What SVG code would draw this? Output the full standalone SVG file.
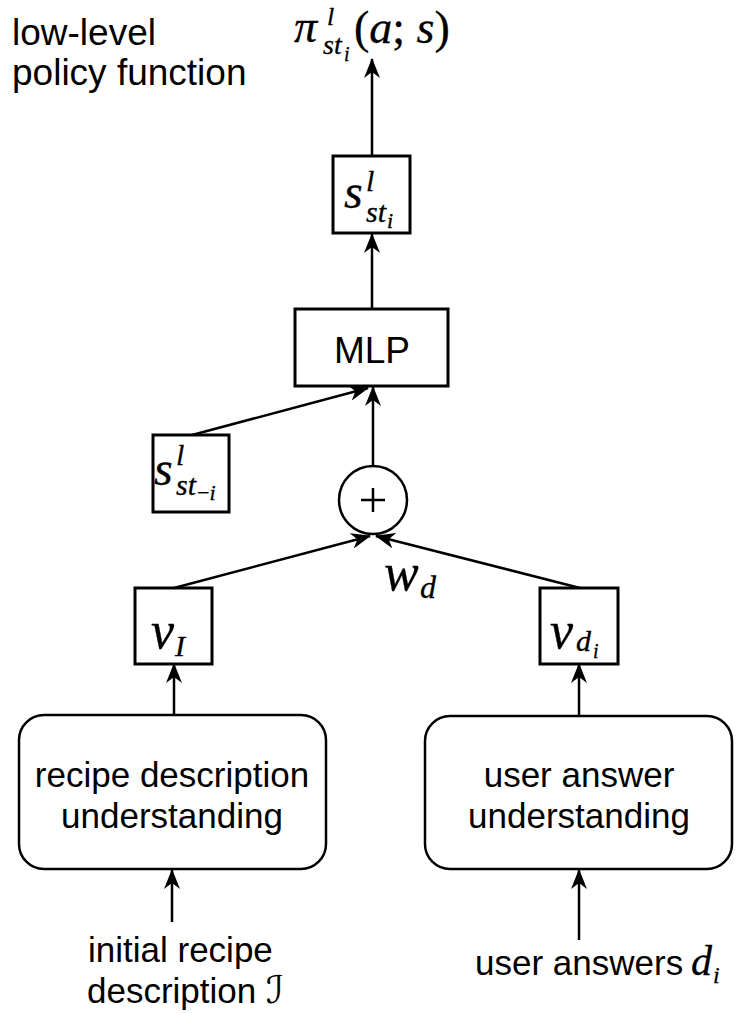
<svg xmlns="http://www.w3.org/2000/svg" width="736" height="1013" viewBox="0 0 736 1013">
<defs>
<style>
.lbl{font-family:"Liberation Sans",Arial,sans-serif;font-size:35px;fill:#000}
.m{font-family:"Liberation Serif","Times New Roman",serif;font-style:italic;fill:#000;stroke:#000;stroke-width:0.3}
.up{font-style:normal}
.box{fill:#fff;stroke:#000;stroke-width:3}
.rbox{fill:#fff;stroke:#000;stroke-width:2.5}
.con{stroke:#000;stroke-width:2.5;fill:none;marker-end:url(#ah)}
</style>
<marker id="ah" viewBox="0 0 20 16" refX="19" refY="8" markerWidth="20" markerHeight="16" markerUnits="userSpaceOnUse" orient="auto">
<path d="M0,0 L20,8 L0,16 L6,8 Z" fill="#000"/>
</marker>
</defs>
<rect width="736" height="1013" fill="#fff"/>

<g id="connectors">
<line class="con" x1="372" y1="156" x2="372" y2="59"/>
<line class="con" x1="372" y1="309" x2="372" y2="234"/>
<line class="con" x1="373" y1="466" x2="373" y2="387"/>
<line class="con" x1="192" y1="435" x2="368" y2="388"/>
<line class="con" x1="174" y1="588" x2="370" y2="536"/>
<line class="con" x1="580" y1="588" x2="376" y2="536"/>
<line class="con" x1="174" y1="716" x2="174" y2="664"/>
<line class="con" x1="579" y1="716" x2="579" y2="664"/>
<line class="con" x1="172" y1="922" x2="172" y2="870"/>
<line class="con" x1="579" y1="940" x2="579" y2="870"/>
</g>

<g id="title">
<text class="lbl" x="12" y="45" style="font-size:37px">low-level</text>
<text class="lbl" x="12" y="85" style="font-size:37px">policy function</text>
</g>

<g id="policy-output">
<text class="m" x="294" y="42" font-size="46">π</text>
<text class="m" x="327" y="25" font-size="26">l</text>
<text class="m" x="323" y="54" font-size="28">st</text>
<text class="m" x="344" y="61" font-size="20">i</text>
<text class="m" x="354" y="43" font-size="46"><tspan class="up">(</tspan>a<tspan class="up">; </tspan>s<tspan class="up">)</tspan></text>
</g>

<g id="s-st-i">
<rect class="box" x="333" y="156" width="77" height="77"/>
<text class="m" x="344" y="208" font-size="48">s</text>
<text class="m" x="366" y="191" font-size="30">l</text>
<text class="m" x="366" y="222" font-size="30">st</text>
<text class="m" x="387" y="228" font-size="22">i</text>
</g>

<g id="mlp">
<rect class="box" x="295" y="309" width="153" height="77"/>
<text class="lbl" x="372" y="363" text-anchor="middle" style="font-size:37px">MLP</text>
</g>

<g id="s-st-minus-i">
<rect class="box" x="153" y="435" width="76" height="77"/>
<text class="m" x="154" y="485" font-size="48">s</text>
<text class="m" x="176" y="465" font-size="30">l</text>
<text class="m" x="176" y="495" font-size="30">st</text>
<text class="m" x="197" y="500" font-size="22"><tspan class="up">−</tspan>i</text>
</g>

<g id="sum">
<circle cx="373" cy="500" r="34" fill="#fff" stroke="#000" stroke-width="2.5"/>
<path d="M361,500 H385 M373,488 V512" stroke="#000" stroke-width="2.5"/>
</g>

<g id="wd">
<text class="m" x="384" y="590" font-size="52">w</text>
<text class="m" x="420" y="598" font-size="32">d</text>
</g>

<g id="v-I">
<rect class="box" x="135" y="588" width="77" height="76"/>
<text class="m" x="151" y="648" font-size="52">v</text>
<text class="m" x="175" y="656" font-size="30">I</text>
</g>

<g id="v-di">
<rect class="box" x="540" y="588" width="78" height="76"/>
<text class="m" x="550" y="648" font-size="52">v</text>
<text class="m" x="576" y="651" font-size="30">d</text>
<text class="m" x="593" y="658" font-size="20">i</text>
</g>

<g id="recipe-understanding">
<rect class="rbox" x="19" y="715" width="307" height="154" rx="25"/>
<text class="lbl" x="172" y="787" text-anchor="middle">recipe description</text>
<text class="lbl" x="172" y="828" text-anchor="middle">understanding</text>
</g>

<g id="answer-understanding">
<rect class="rbox" x="425" y="716" width="307" height="153" rx="25"/>
<text class="lbl" x="579" y="787" text-anchor="middle">user answer</text>
<text class="lbl" x="579" y="828" text-anchor="middle">understanding</text>
</g>

<g id="recipe-input">
<text class="lbl" x="88" y="962">initial recipe</text>
<text class="lbl" x="87" y="1003">description <tspan font-family="'DejaVu Serif','DejaVu Sans',serif" font-style="italic" font-size="38">ℐ</tspan></text>
</g>

<g id="answer-input">
<text class="lbl" x="475" y="975">user answers</text>
<text class="m" x="691" y="975" font-size="42">d</text>
<text class="m" x="713" y="983" font-size="24">i</text>
</g>
</svg>
